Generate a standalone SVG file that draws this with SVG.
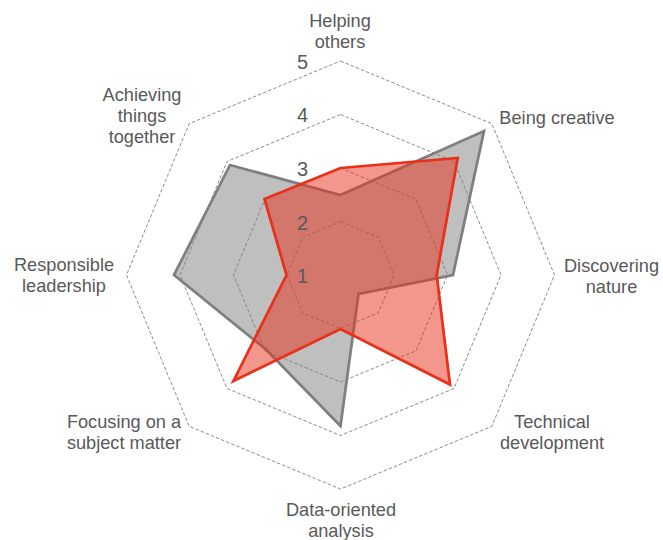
<svg xmlns="http://www.w3.org/2000/svg" width="663" height="540" viewBox="0 0 663 540">
<style>
.grid{fill:none;stroke:#8c8c8c;stroke-width:1;stroke-dasharray:3.5,2}
.lbl{font-family:"Liberation Sans",Arial,sans-serif;font-size:18.2px;fill:#595959;text-anchor:middle}
.num{font-family:"Liberation Sans",Arial,sans-serif;font-size:20px;fill:#595959;text-anchor:end}
.s1{fill:#7f7f7f;fill-opacity:0.5;stroke:#7f7f7f;stroke-width:2.75;stroke-linejoin:miter}
.s2{fill:#e8301a;fill-opacity:0.5;stroke:#e8301a;stroke-width:2.75;stroke-linejoin:miter}
</style>
<rect width="663" height="540" fill="#ffffff"/>
<g id="gridlines">
<polygon class="grid" points="340.5,221.5 378.33,237.17 394,275 378.33,312.83 340.5,328.5 302.67,312.83 287,275 302.67,237.17"/>
<polygon class="grid" points="340.5,168 416.16,199.34 447.5,275 416.16,350.66 340.5,382 264.84,350.66 233.5,275 264.84,199.34"/>
<polygon class="grid" points="340.5,114.5 453.99,161.51 501,275 453.99,388.49 340.5,435.5 227.01,388.49 180,275 227.01,161.51"/>
<polygon class="grid" points="340.5,61 491.82,123.68 554.5,275 491.82,426.32 340.5,489 189.18,426.32 126.5,275 189.18,123.68"/>
</g>
<g id="connectors">
<polygon id="series-gray" class="s1" points="340.5,195 484,131 453,275 358.5,294 340.5,426 266,349.5 174,275 230,165"/>
<polygon id="series-red" class="s2" points="340.5,168 457.7,158 436.7,275 450,384.5 340.5,329 233.5,381 286.5,275 264.5,199"/>
</g>
<g id="axis-values">
<text class="num" x="308" y="69">5</text>
<text class="num" x="308" y="122">4</text>
<text class="num" x="308" y="176">3</text>
<text class="num" x="308" y="229.5">2</text>
<text class="num" x="308" y="283">1</text>
</g>
<g id="node-helping"><text class="lbl" x="340" y="27">Helping</text><text class="lbl" x="340" y="48">others</text></g>
<g id="node-creative"><text class="lbl" x="557" y="124">Being creative</text></g>
<g id="node-nature"><text class="lbl" x="611.5" y="272">Discovering</text><text class="lbl" x="611.5" y="293">nature</text></g>
<g id="node-technical"><text class="lbl" x="552" y="428">Technical</text><text class="lbl" x="552" y="449">development</text></g>
<g id="node-data"><text class="lbl" x="341" y="516">Data-oriented</text><text class="lbl" x="341" y="537">analysis</text></g>
<g id="node-focus"><text class="lbl" x="124" y="428">Focusing on a</text><text class="lbl" x="124" y="449">subject matter</text></g>
<g id="node-leadership"><text class="lbl" x="64" y="271">Responsible</text><text class="lbl" x="64" y="292">leadership</text></g>
<g id="node-achieving"><text class="lbl" x="142" y="101">Achieving</text><text class="lbl" x="142" y="122">things</text><text class="lbl" x="142" y="143">together</text></g>
</svg>
